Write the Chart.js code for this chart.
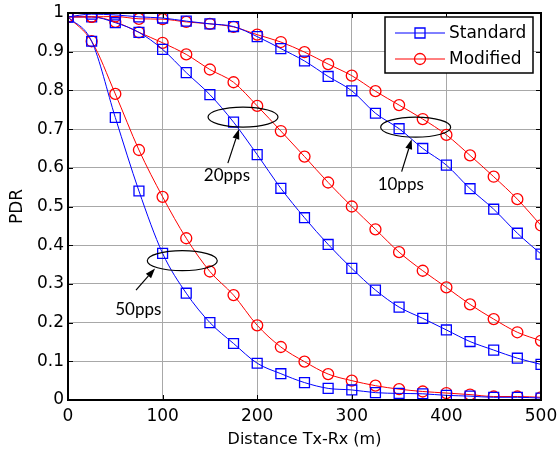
<!DOCTYPE html>
<html>
<head>
<meta charset="utf-8">
<script src="https://cdn.jsdelivr.net/npm/chart.js@4.4.0/dist/chart.umd.min.js"></script>
<style>
html, body { margin: 0; padding: 0; background: #fff; }
#wrap { width: 558px; height: 453px; }
</style>
</head>
<body>
<div id="wrap"><canvas id="pdrChart" width="558" height="453"></canvas></div>
<script>
// PDR vs Tx-Rx distance, standard vs modified, three packet rates

const distances = [0, 25, 50, 75, 100, 125, 150, 175, 200, 225, 250, 275, 300, 325, 350, 375, 400, 425, 450, 475, 500];

const std10 = [0.990, 0.997, 0.995, 0.990, 0.987, 0.979, 0.972, 0.965, 0.939, 0.908, 0.876, 0.836, 0.799, 0.741, 0.701, 0.650, 0.607, 0.546, 0.493, 0.431, 0.377];
const mod10 = [0.990, 0.990, 0.991, 0.985, 0.984, 0.977, 0.972, 0.964, 0.944, 0.925, 0.899, 0.868, 0.838, 0.798, 0.762, 0.726, 0.685, 0.632, 0.577, 0.519, 0.451];

const std20 = [0.990, 0.990, 0.975, 0.950, 0.906, 0.846, 0.789, 0.718, 0.634, 0.547, 0.471, 0.402, 0.340, 0.284, 0.240, 0.211, 0.181, 0.151, 0.129, 0.108, 0.092];
const mod20 = [0.990, 0.990, 0.977, 0.950, 0.923, 0.893, 0.854, 0.821, 0.760, 0.695, 0.629, 0.562, 0.500, 0.441, 0.382, 0.334, 0.291, 0.247, 0.209, 0.175, 0.153];

const std50 = [0.990, 0.927, 0.730, 0.540, 0.379, 0.276, 0.200, 0.146, 0.095, 0.068, 0.045, 0.030, 0.026, 0.019, 0.017, 0.016, 0.012, 0.010, 0.007, 0.007, 0.005];
const mod50 = [0.990, 0.927, 0.791, 0.646, 0.525, 0.418, 0.332, 0.271, 0.193, 0.137, 0.099, 0.067, 0.050, 0.037, 0.028, 0.022, 0.018, 0.014, 0.009, 0.009, 0.007];

const seriesNames = ['Standard', 'Modified'];
const BLUE = '#0000ff';
const RED = '#ff0000';

const toPoints = (ys) => ys.map((y, i) => ({ x: distances[i], y: y }));

function stdSet(ys) {
    return {
        label: seriesNames[0],
        data: toPoints(ys),
        borderColor: BLUE,
        borderWidth: 1,
        pointStyle: 'rect',
        pointRadius: 7,
        pointBorderWidth: 1.3,
        pointBorderColor: BLUE,
        pointBackgroundColor: 'rgba(0,0,0,0)',
        cubicInterpolationMode: 'monotone'
    };
}

function modSet(ys) {
    return {
        label: seriesNames[1],
        data: toPoints(ys),
        borderColor: RED,
        borderWidth: 1,
        pointStyle: 'circle',
        pointRadius: 5.5,
        pointBorderWidth: 1.3,
        pointBorderColor: RED,
        pointBackgroundColor: 'rgba(0,0,0,0)',
        cubicInterpolationMode: 'monotone'
    };
}

// callouts, positions in data units
const callouts = [
    { text: '20pps', cx: 185, cy: 0.731, from: [169, 0.612], to: [180.8, 0.700], lx: 168, ly: 0.579 },
    { text: '10pps', cx: 367.5, cy: 0.705, from: [352.7, 0.590], to: [363.3, 0.674], lx: 351.7, ly: 0.556 },
    { text: '50pps', cx: 120.8, cy: 0.360, from: [71.9, 0.284], to: [92, 0.340], lx: 74.3, ly: 0.234 }
];

const framePlugin = {
    id: 'frame',
    afterDraw(chart) {
        const { ctx, chartArea: a, scales } = chart;
        const xs = scales.x, ys = scales.y;
        ctx.save();

        // inner tick marks (MATLAB style)
        ctx.strokeStyle = '#000';
        ctx.lineWidth = 1;
        xs.ticks.forEach(t => {
            const px = Math.round(xs.getPixelForValue(t.value)) + 0.5;
            ctx.beginPath();
            ctx.moveTo(px, a.bottom); ctx.lineTo(px, a.bottom - 5);
            ctx.moveTo(px, a.top); ctx.lineTo(px, a.top + 5);
            ctx.stroke();
        });
        ys.ticks.forEach(t => {
            const py = Math.round(ys.getPixelForValue(t.value)) + 0.5;
            ctx.beginPath();
            ctx.moveTo(a.left, py); ctx.lineTo(a.left + 5, py);
            ctx.moveTo(a.right, py); ctx.lineTo(a.right - 5, py);
            ctx.stroke();
        });

        // box
        ctx.lineWidth = 2;
        ctx.strokeRect(a.left, a.top, a.right - a.left, a.bottom - a.top);

        // callouts: ellipse + arrow + label
        ctx.lineWidth = 1.2;
        ctx.fillStyle = '#000';
        ctx.font = '17px Lato';
        ctx.textAlign = 'center';
        ctx.textBaseline = 'middle';
        callouts.forEach(c => {
            const cx = xs.getPixelForValue(c.cx), cy = ys.getPixelForValue(c.cy);
            ctx.beginPath();
            ctx.ellipse(cx, cy, 35, 10, 0, 0, Math.PI * 2);
            ctx.stroke();

            const x1 = xs.getPixelForValue(c.from[0]), y1 = ys.getPixelForValue(c.from[1]);
            const x2 = xs.getPixelForValue(c.to[0]), y2 = ys.getPixelForValue(c.to[1]);
            const ang = Math.atan2(y2 - y1, x2 - x1);
            const hl = 10, hw = 3.5;
            const bx = x2 - hl * Math.cos(ang), by = y2 - hl * Math.sin(ang);
            ctx.beginPath();
            ctx.moveTo(x1, y1); ctx.lineTo(bx, by);
            ctx.stroke();
            ctx.beginPath();
            ctx.moveTo(x2, y2);
            ctx.lineTo(bx + hw * Math.sin(ang), by - hw * Math.cos(ang));
            ctx.lineTo(bx - hw * Math.sin(ang), by + hw * Math.cos(ang));
            ctx.closePath();
            ctx.fill();

            ctx.fillText(c.text, xs.getPixelForValue(c.lx), ys.getPixelForValue(c.ly));
        });

        // legend box, top right inside plot
        const lw = 148, lh = 56;
        const lx = a.right - 8 - lw, ly = a.top + 4;
        ctx.fillStyle = '#fff';
        ctx.fillRect(lx, ly, lw, lh);
        ctx.lineWidth = 1.5;
        ctx.strokeRect(lx, ly, lw, lh);
        ctx.textAlign = 'left';
        ctx.font = '17px "DejaVu Sans"';
        [[BLUE, 'rect'], [RED, 'circle']].forEach((s, i) => {
            const ry = ly + 16 + i * 26;
            ctx.strokeStyle = s[0];
            ctx.lineWidth = 1;
            ctx.beginPath();
            ctx.moveTo(lx + 10, ry); ctx.lineTo(lx + 60, ry);
            ctx.stroke();
            ctx.lineWidth = 1.3;
            ctx.beginPath();
            if (s[1] === 'rect') ctx.rect(lx + 35 - 5, ry - 5, 10, 10);
            else ctx.arc(lx + 35, ry, 5.5, 0, Math.PI * 2);
            ctx.stroke();
            ctx.fillStyle = '#000';
            ctx.fillText(seriesNames[i], lx + 64, ry + 1);
        });
        ctx.restore();
    }
};

const ctx = document.getElementById('pdrChart');

new Chart(ctx, {
    type: 'line',
    data: {
        datasets: [
            stdSet(std10), modSet(mod10),
            stdSet(std20), modSet(mod20),
            stdSet(std50), modSet(mod50)
        ]
    },
    options: {
        responsive: false,
        animation: false,
        devicePixelRatio: 1,
        layout: { padding: { left: 0, right: 17, top: 13, bottom: 0 } },
        plugins: {
            legend: { display: false },
            tooltip: { enabled: false }
        },
        scales: {
            x: {
                type: 'linear',
                min: 0,
                max: 500,
                ticks: {
                    stepSize: 100,
                    color: '#000',
                    padding: 6,
                    font: { family: 'DejaVu Sans', size: 17 },
                    maxRotation: 0
                },
                grid: { color: '#a8a8a8', lineWidth: 1, drawTicks: false },
                border: { display: false },
                title: {
                    display: true,
                    text: 'Distance Tx-Rx (m)',
                    color: '#000',
                    font: { family: 'DejaVu Sans', size: 16 },
                    padding: { top: 2, bottom: 4 }
                },
                afterFit(scale) {
                    scale.height = 53;
                    scale.paddingLeft = 0;
                    scale.paddingRight = 0;
                }
            },
            y: {
                min: 0,
                max: 1,
                ticks: {
                    stepSize: 0.1,
                    color: '#000',
                    padding: 4,
                    font: { family: 'DejaVu Sans', size: 17 },
                    callback: (v) => Math.round(v * 10) / 10
                },
                grid: { color: '#a8a8a8', lineWidth: 1, drawTicks: false },
                border: { display: false },
                title: {
                    display: true,
                    text: 'PDR',
                    color: '#000',
                    font: { family: 'DejaVu Sans', size: 17 },
                    padding: { top: 7, bottom: 0 }
                },
                afterFit(scale) {
                    scale.width = 68;
                    scale.paddingTop = 0;
                    scale.paddingBottom = 0;
                }
            }
        }
    },
    plugins: [framePlugin]
});
</script>
</body>
</html>
